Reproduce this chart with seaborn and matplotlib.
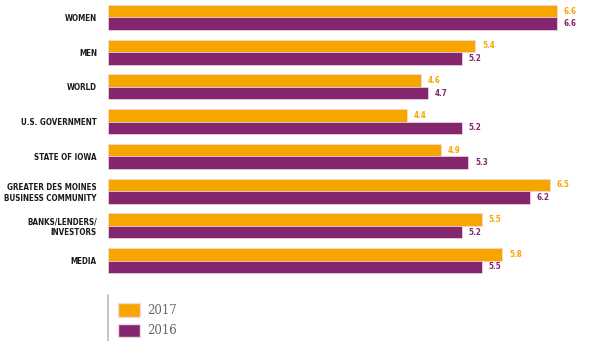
import matplotlib
matplotlib.use("Agg")
import matplotlib.pyplot as plt
import seaborn as sns
import pandas as pd
from matplotlib.lines import Line2D
from matplotlib.patches import Patch

categories = ["WOMEN", "MEN", "WORLD", "U.S. GOVERNMENT", "STATE OF IOWA",
              "GREATER DES MOINES\nBUSINESS COMMUNITY", "BANKS/LENDERS/\nINVESTORS", "MEDIA"]
values_2017 = [6.6, 5.4, 4.6, 4.4, 4.9, 6.5, 5.5, 5.8]
values_2016 = [6.6, 5.2, 4.7, 5.2, 5.3, 6.2, 5.2, 5.5]
years = ["2017", "2016"]
colors = {"2017": "#F7A600", "2016": "#84266E"}

df = pd.DataFrame({
    "category": categories * 2,
    "value": values_2017 + values_2016,
    "year": ["2017"] * len(categories) + ["2016"] * len(categories),
})

sns.set_style("white")
fig = plt.figure(figsize=(6.0, 3.41), dpi=100)
ax = fig.add_axes([108 / 600, 1 - 278 / 341, 492 / 600, 278 / 341])

sns.barplot(data=df, y="category", x="value", hue="year", hue_order=years,
            order=categories, palette=colors, orient="h", width=0.72, saturation=1,
            edgecolor="#f3d9e6", linewidth=0.5, legend=False, ax=ax)

ax.set_xlim(0, 492 / 68)
ax.set_ylim(7.5, -0.5)
ax.set_xlabel("")
ax.set_ylabel("")
ax.set_xticks([])
for s in ax.spines.values():
    s.set_visible(False)

lab_font = dict(family="DejaVu Sans", fontstretch="condensed", weight="bold")
ax.tick_params(axis="y", length=0, pad=8)
ax.set_yticks(range(len(categories)))
ax.set_yticklabels(categories, fontsize=5.8, color="#1a1a1a", **lab_font)
for t in ax.get_yticklabels():
    t.set_horizontalalignment("right")
    t.set_multialignment("right")

for cont, yr in zip(ax.containers, years):
    ax.bar_label(cont, fmt="%.1f", padding=5, fontsize=5.8, color=colors[yr], **lab_font)

# legend
fig.add_artist(Line2D([108 / 600, 108 / 600], [1 - 295 / 341, 0], color="#bbbbbb", lw=1.2))
handles = [Patch(facecolor=colors[y], edgecolor="#f3d9e6", label=y) for y in years]
leg = fig.legend(handles=handles, loc="upper left", bbox_to_anchor=(109 / 600, 1 - 294 / 341),
                 frameon=False, prop=dict(family="DejaVu Serif", size=8.5),
                 handlelength=1.8, handleheight=1.35, labelspacing=0.55, handletextpad=0.6,
                 borderpad=0.3)
for t in leg.get_texts():
    t.set_color("#666666")

fig.savefig("out.png", dpi=100)
